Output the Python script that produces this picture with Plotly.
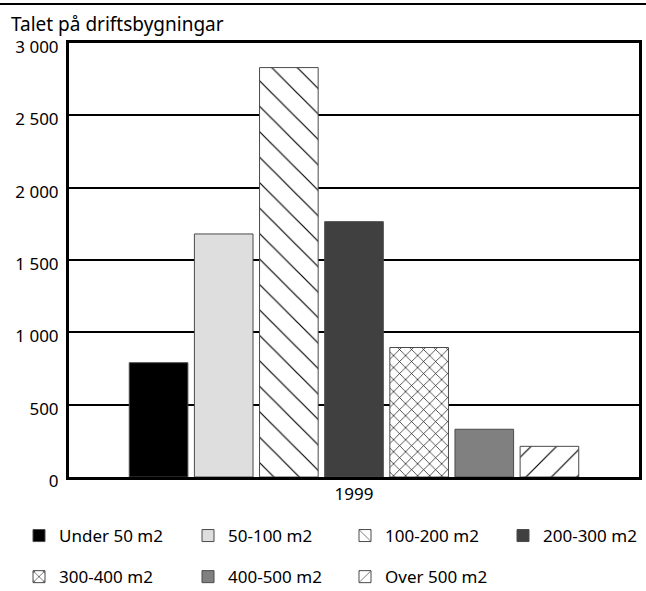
import plotly.graph_objects as go

# ---- data ----
categories = ["1999"]
series_names = ["Under 50 m2", "50-100 m2", "100-200 m2", "200-300 m2",
                "300-400 m2", "400-500 m2", "Over 500 m2"]
values = [790, 1680, 2830, 1765, 895, 330, 212]
y_tickvals = [0, 500, 1000, 1500, 2000, 2500, 3000]
y_ticktext = ["0", "500", "1 000", "1 500", "2 000", "2 500", "3 000"]
title_text = "Talet på driftsbygningar"

# ---- styles ----
fills = ["#000000", "#dedede", "#ffffff", "#404040", "#ffffff", "#808080", "#ffffff"]
patterns = ["", "", "\\", "", "x", "", "/"]
pattern_sizes = [8, 8, 18, 8, 8.5, 8, 18]
pattern_solidity = [0.1, 0.1, 0.065, 0.1, 0.15, 0.1, 0.065]
# legend column for each series (legend grid of 4 columns, 2 rows)
legend_ids = ["legend", "legend2", "legend3", "legend4", "legend", "legend2", "legend3"]
legend_col_left = [19, 188, 345, 503]   # pixel left of each legend column

FONT = "Noto Sans"

fig = go.Figure()
for i, name in enumerate(series_names):
    fig.add_trace(go.Bar(
        x=categories,
        y=[values[i]],
        name=name,
        legend=legend_ids[i],
        legendgroup=name,
        marker=dict(
            color=fills[i],
            line=dict(color="#4a4a4a", width=1),
            pattern=dict(shape=patterns[i], fgcolor="#000000", bgcolor=fills[i],
                         size=pattern_sizes[i], solidity=pattern_solidity[i],
                         fgopacity=1, fillmode="overlay"),
        ),
    ))

W, H = 646, 591
ml, mr, mt, mb = 69, 7, 43, 114
pw = W - ml - mr
ph = H - mt - mb
bottom_px = mt + ph

legend_top_px = 518


def legend_at(left_px):
    return dict(
        orientation="v",
        font=dict(family=FONT, size=17, color="#000000"),
        x=(left_px - ml) / pw,
        y=-(legend_top_px - bottom_px) / ph,
        xanchor="left",
        yanchor="top",
        tracegroupgap=16,
        bgcolor="rgba(0,0,0,0)",
        borderwidth=0,
        itemclick=False,
        itemdoubleclick=False,
    )


fig.update_layout(
    width=W, height=H,
    margin=dict(l=ml, r=mr, t=mt, b=mb, pad=0, autoexpand=False),
    paper_bgcolor="#ffffff",
    plot_bgcolor="#ffffff",
    barmode="group",
    bargap=0.2,
    bargroupgap=0.1,
    font=dict(family=FONT, size=17, color="#000000"),
    title=dict(text=title_text, x=11 / W, xref="container", xanchor="left",
               y=1 - 24 / H, yref="container", yanchor="middle",
               font=dict(family=FONT, size=19, color="#000000")),
    showlegend=True,
    legend=legend_at(legend_col_left[0]),
    legend2=legend_at(legend_col_left[1]),
    legend3=legend_at(legend_col_left[2]),
    legend4=legend_at(legend_col_left[3]),
    xaxis=dict(
        type="category",
        showline=True, linecolor="#000000", linewidth=3, mirror=True,
        showgrid=False, ticks="",
        tickfont=dict(family=FONT, size=17, color="#000000"),
        fixedrange=True,
    ),
    yaxis=dict(
        range=[0, 3000],
        tickvals=y_tickvals, ticktext=y_ticktext,
        showline=True, linecolor="#000000", linewidth=3, mirror=True,
        showgrid=True, gridcolor="#000000", gridwidth=2,
        zeroline=False, ticks="",
        ticklabelstandoff=4,
        ticklabelshift=4,
        tickfont=dict(family=FONT, size=17, color="#000000"),
        fixedrange=True,
    ),
    shapes=[dict(type="line", xref="paper", yref="paper",
                 x0=-ml / pw, x1=(W - ml) / pw,
                 y0=1 + (mt - 4) / ph, y1=1 + (mt - 4) / ph,
                 line=dict(color="#000000", width=2))],
)

fig.write_html(
    "out.html",
    config={"displayModeBar": False},
    post_script="document.body.style.margin='0';document.documentElement.style.margin='0';",
)
